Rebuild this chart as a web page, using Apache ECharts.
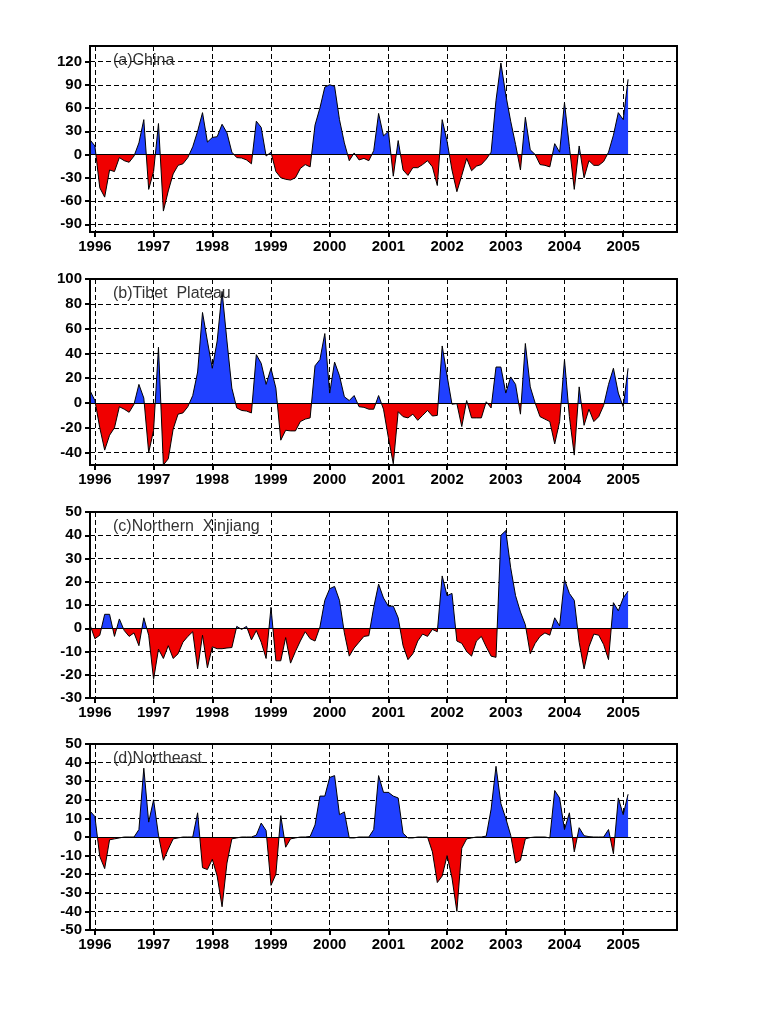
<!DOCTYPE html>
<html lang="en">
<head>
    <meta charset="UTF-8">
    <title>Monthly anomaly 1996-2005</title>
    <script src="https://cdn.jsdelivr.net/npm/echarts@6/dist/echarts.min.js"></script>
    <style>
        html, body { margin: 0; padding: 0; background: #fff; }
        #main { width: 768px; height: 1024px; }
    </style>
</head>
<body>
<div id="main"></div>
<script type="text/javascript">
    // first point is Dec 1995, one value per month up to Feb 2005
    const china = [
        19, 11, -43, -55, -20, -22, -4, -8, -10, -2, 15, 45, -45, -22, 40, -73, -47, -25, -14, -12,
        -4, 10, 30, 54, 16, 22, 23, 39, 28, 3, -4, -4.5, -7, -12, 43, 35, -2, 3, -22, -30,
        -32, -33, -30, -18, -13, -16, 38, 60, 87, 90, 88, 45, 15, -8, 2, -7, -5, -8, 5, 53,
        24, 30, -28, 18, -20, -27, -17, -17, -13, -8, -16, -40, 45, 17, -20, -48, -27, -5, -21, -15,
        -13, -6, 3, 70, 118, 77, 43, 13, -20, 48, 6, 0, -13, -14, -16, 14, 3, 67, 10, -45,
        11, -30, -8, -14, -14, -9, 3, 25, 54, 45, 97
    ];
    const tibet = [
        10, 2, -20, -38, -26, -20, -3, -5, -7.5, -1, 15, 4, -40, -22, 45, -50, -45, -21, -9, -8,
        -3, 6, 25, 73, 50, 28, 50, 90, 50, 12, -4, -6, -6.5, -8, 39, 32, 15, 28, 12, -30,
        -22, -22.5, -22.5, -15, -13, -12, 30, 35, 56, 8, 33, 22, 5, 2, 6, -3, -3.5, -5, -5, 6,
        -5, -28, -49, -7, -11, -12, -9, -14, -10, -6, -10.5, -10, 46, 22, -1, -0.5, -19, 2, -12, -12,
        -12, 1, -4, 29, 29, 8, 21, 15, -9, 48, 13, 0, -11, -13, -15, -33, -15, 35, -11, -42,
        13, -18, -5, -15, -11, -2, 15, 28, 8, -3, 28
    ];
    const xinjiang = [
        1.5, -4.5, -3, 6, 6, -3.5, 4, -1, -3.5, -2, -7.5, 4.5, -3, -22, -9, -13, -7.5, -13, -11, -6,
        -3.5, -1.5, -17.5, -3, -17, -8, -8.8, -8.8, -8.5, -8.3, 0.8, -0.5, 0.8, -5, -1, -6, -13, 9, -14, -14,
        -4, -15, -10, -5.5, -1.5, -4.5, -5.5, 0.5, 12, 17, 18, 12, -2, -12, -8.5, -6, -3.5, -3.2, 9, 19,
        13, 9.5, 9.5, 4.5, -7.5, -13.5, -11, -5.5, -2.5, -3.5, -0.5, -1.5, 22.5, 14, 15, -5.5, -6.5, -10, -12, -5.5,
        -3.5, -8, -12, -12.5, 40, 42, 26, 14, 7, 1.5, -11, -6.5, -3.5, -2, -3, 4.5, 1, 21, 15, 12,
        -6, -17.5, -8, -2.5, -3, -7, -13.5, 11, 7.5, 13, 16
    ];
    const northeast = [
        14, 11, -10.5, -17, -1.5, -1, -0.5, 0, 0, 0, 4, 37, 8, 20, 1, -12.5, -6.5, -1, -0.5, 0,
        0, 0, 13, -16.5, -17.5, -12, -21, -37.5, -14, -1, -0.5, 0, 0, 0, 1, 7.5, 3.5, -26, -20, 11.5,
        -5.5, -1, -0.5, 0, 0, 0.3, 6.5, 22, 22, 32, 33, 12, 13.5, -0.5, -0.5, 0, 0, 0, 4, 33,
        24, 24, 22, 21, 2, -0.5, -0.5, 0, 0, 0, -8, -24.5, -21, -10, -22, -40, -6, -1, -0.5, 0,
        0, 0.5, 15, 38, 18, 10, 1, -14, -12.5, -1, -0.3, 0, 0, 0, -0.5, 25, 21, 4, 13, -8,
        5, 0.7, 0.2, 0, 0, 0, 4, -9, 21, 12, 23
    ];

    const panelTitles = ['(a)China', '(b)Tibet  Plateau', '(c)Northern  Xinjiang', '(d)Northeast'];
    const panelValues = [china, tibet, xinjiang, northeast];
    const yRanges = [[-100, 140], [-50, 100], [-30, 50], [-50, 50]];
    const yTicks = [
        [-90, -60, -30, 0, 30, 60, 90, 120],
        [-40, -20, 0, 20, 40, 60, 80, 100],
        [-30, -20, -10, 0, 10, 20, 30, 40, 50],
        [-50, -40, -30, -20, -10, 0, 10, 20, 30, 40, 50]
    ];
    const panelTops = [46, 279, 512, 744];
    const panelHeight = 186;

    // category axis runs Dec 1995 .. Dec 2005
    let months = ['1995-12'];
    for (let y = 1996; y <= 2005; y++) {
        for (let m = 1; m <= 12; m++) {
            months.push(y + '-' + (m < 10 ? '0' + m : m));
        }
    }
    const isJanuary = (i, name) => name.endsWith('-01');

    const labelFont = {
        color: '#000',
        fontFamily: '"Liberation Sans", sans-serif',
        fontWeight: 'bold',
        fontSize: 15
    };
    const gridLine = { show: true, lineStyle: { color: '#000', width: 1, type: [5, 3] } };

    let option = {
        backgroundColor: '#fff',
        animation: false,
        title: [],
        grid: [],
        xAxis: [],
        yAxis: [],
        visualMap: [],
        series: []
    };

    panelValues.forEach((values, i) => {
        option.title.push({
            text: panelTitles[i],
            left: 113,
            top: panelTops[i] + 7,
            padding: 0,
            textStyle: {
                color: '#333',
                fontFamily: '"Liberation Sans", sans-serif',
                fontWeight: 'normal',
                fontSize: 16
            }
        });
        option.grid.push({
            left: 90,
            width: 587,
            top: panelTops[i],
            height: panelHeight,
            show: true,
            borderColor: '#000',
            borderWidth: 2
        });
        option.xAxis.push({
            type: 'category',
            gridIndex: i,
            data: months,
            boundaryGap: false,
            z: 3,
            axisLine: { onZero: false, lineStyle: { color: '#000', width: 2 } },
            axisTick: { length: 5, interval: isJanuary, lineStyle: { color: '#000', width: 2 } },
            axisLabel: Object.assign({
                interval: isJanuary,
                margin: 7,
                formatter: name => name.slice(0, 4)
            }, labelFont),
            splitLine: Object.assign({ interval: isJanuary }, gridLine)
        });
        option.yAxis.push({
            type: 'value',
            gridIndex: i,
            min: yRanges[i][0],
            max: yRanges[i][1],
            z: 3,
            axisLine: { show: true, onZero: false, lineStyle: { color: '#000', width: 2 } },
            axisTick: { show: true, length: 5, customValues: yTicks[i], lineStyle: { color: '#000', width: 2 } },
            axisLabel: Object.assign({ margin: 8, padding: [2, 0, 0, 0], customValues: yTicks[i] }, labelFont),
            splitLine: gridLine
        });
        option.visualMap.push({
            show: false,
            seriesIndex: i,
            dimension: 1,
            pieces: [
                { min: 0, max: yRanges[i][1], color: '#2040ff' },
                { min: yRanges[i][0], max: 0, color: '#f00000' }
            ]
        });
        option.series.push({
            type: 'line',
            xAxisIndex: i,
            yAxisIndex: i,
            data: values,
            symbol: 'none',
            lineStyle: { color: '#000', width: 1 },
            areaStyle: { opacity: 1 },
            markLine: {
                silent: true,
                symbol: 'none',
                label: { show: false },
                lineStyle: { color: '#000', width: 1, type: 'solid' },
                data: [[
                    { xAxis: months[0], yAxis: 0 },
                    { xAxis: months[values.length - 1], yAxis: 0 }
                ]]
            }
        });
    });

    let chart = echarts.init(document.getElementById('main'));
    chart.setOption(option);
</script>
</body>
</html>
